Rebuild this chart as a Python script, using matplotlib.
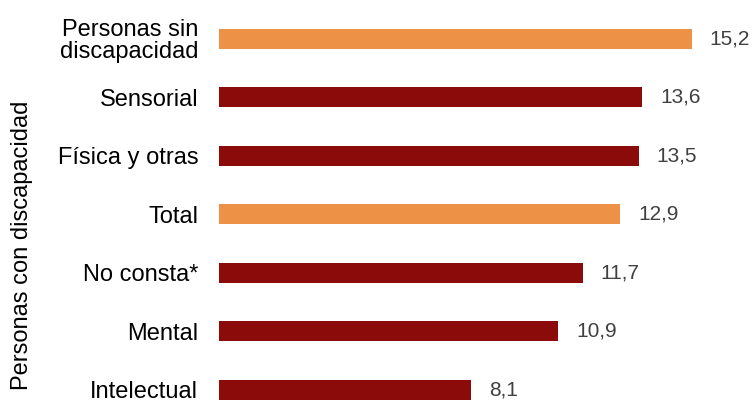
import matplotlib
matplotlib.use("Agg")
import matplotlib.pyplot as plt

plt.rcParams['font.family'] = ['Liberation Sans', 'DejaVu Sans']

categories = ["Personas sin\ndiscapacidad", "Sensorial", "Física y otras", "Total",
              "No consta*", "Mental", "Intelectual"]
values = [15.2, 13.6, 13.5, 12.9, 11.7, 10.9, 8.1]
value_labels = ["15,2", "13,6", "13,5", "12,9", "11,7", "10,9", "8,1"]
highlight = [True, False, False, True, False, False, False]

ORANGE = "#ED9147"
DARK_RED = "#8B0B0B"
colors = [ORANGE if h else DARK_RED for h in highlight]

W, H = 752, 400
fig = plt.figure(figsize=(W / 100, H / 100), dpi=100)

x0 = 219
ax = fig.add_axes([x0 / W, 0, 1 - x0 / W, 1])

pos = list(range(len(categories)))
ax.barh(pos, values, height=0.34, color=colors)

px_per_unit = 31.1
ax.set_xlim(0, (W - x0) / px_per_unit)
top_c, step = 38.8, 58.5
ax.set_ylim((H - top_c) / step, -top_c / step)

for p, v, lab in zip(pos, values, value_labels):
    ax.text(v + 18 / px_per_unit, p, lab, va="center", ha="left",
            fontsize=15, color="#404040")

ax.set_yticks(pos)
ax.set_yticklabels(categories, fontsize=17, color="#000000", linespacing=1.0)
ax.tick_params(axis="y", length=0, pad=15)
ax.set_xticks([])
for s in ax.spines.values():
    s.set_visible(False)

fig.text(22 / W, 1 - 245 / H, "Personas con discapacidad", rotation=90,
         va="center", ha="center", fontsize=17, color="#000000")

fig.savefig("out.png", dpi=100)
